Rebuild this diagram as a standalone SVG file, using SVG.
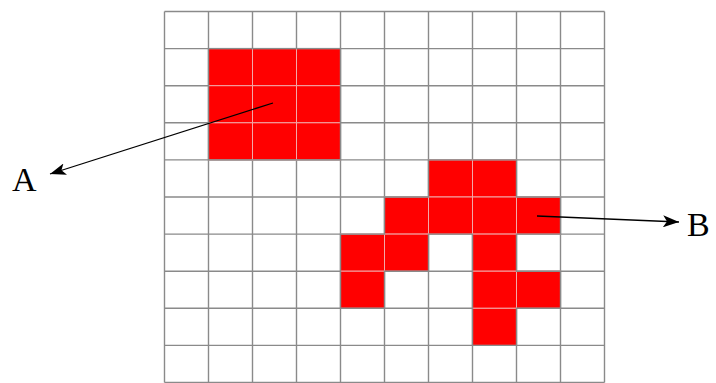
<svg xmlns="http://www.w3.org/2000/svg" width="716" height="383" viewBox="0 0 716 383">
<style>
.grid line{stroke:#8a8a8a;stroke-width:1.4}
.cell{fill:#ff0000;stroke:#f2a8a8;stroke-width:1}
.outline{fill:none;stroke:#8a8a8a;stroke-width:1.4}
.conn{stroke:#000;stroke-width:1.3;fill:none;marker-end:url(#ah)}
.lbl{font-family:"Liberation Serif","DejaVu Serif",serif;font-size:34px;fill:#000}
</style>
<defs>
<marker id="ah" markerUnits="userSpaceOnUse" markerWidth="18" markerHeight="12" refX="16" refY="6" orient="auto">
<path d="M0,0 L16,6 L0,12 L4,6 Z" fill="#000"/>
</marker>
</defs>
<rect width="716" height="383" fill="#fff"/>
<g class="grid">
<line x1="164.5" y1="11.5" x2="164.5" y2="382.5"/>
<line x1="208.5" y1="11.5" x2="208.5" y2="382.5"/>
<line x1="252.5" y1="11.5" x2="252.5" y2="382.5"/>
<line x1="296.5" y1="11.5" x2="296.5" y2="382.5"/>
<line x1="340.5" y1="11.5" x2="340.5" y2="382.5"/>
<line x1="384.5" y1="11.5" x2="384.5" y2="382.5"/>
<line x1="428.5" y1="11.5" x2="428.5" y2="382.5"/>
<line x1="472.5" y1="11.5" x2="472.5" y2="382.5"/>
<line x1="516.5" y1="11.5" x2="516.5" y2="382.5"/>
<line x1="560.5" y1="11.5" x2="560.5" y2="382.5"/>
<line x1="604.5" y1="11.5" x2="604.5" y2="382.5"/>
<line x1="164.5" y1="11.5" x2="604.5" y2="11.5"/>
<line x1="164.5" y1="48.6" x2="604.5" y2="48.6"/>
<line x1="164.5" y1="85.7" x2="604.5" y2="85.7"/>
<line x1="164.5" y1="122.8" x2="604.5" y2="122.8"/>
<line x1="164.5" y1="159.9" x2="604.5" y2="159.9"/>
<line x1="164.5" y1="197" x2="604.5" y2="197"/>
<line x1="164.5" y1="234.1" x2="604.5" y2="234.1"/>
<line x1="164.5" y1="271.2" x2="604.5" y2="271.2"/>
<line x1="164.5" y1="308.3" x2="604.5" y2="308.3"/>
<line x1="164.5" y1="345.4" x2="604.5" y2="345.4"/>
<line x1="164.5" y1="382.5" x2="604.5" y2="382.5"/>
</g>
<g id="regionA">
<rect class="cell" x="208.5" y="48.6" width="44" height="37.1"/>
<rect class="cell" x="252.5" y="48.6" width="44" height="37.1"/>
<rect class="cell" x="296.5" y="48.6" width="44" height="37.1"/>
<rect class="cell" x="208.5" y="85.7" width="44" height="37.1"/>
<rect class="cell" x="252.5" y="85.7" width="44" height="37.1"/>
<rect class="cell" x="296.5" y="85.7" width="44" height="37.1"/>
<rect class="cell" x="208.5" y="122.8" width="44" height="37.1"/>
<rect class="cell" x="252.5" y="122.8" width="44" height="37.1"/>
<rect class="cell" x="296.5" y="122.8" width="44" height="37.1"/>
<rect class="outline" x="208.5" y="48.6" width="132" height="111.3"/>
</g>
<g id="regionB">
<rect class="cell" x="428.5" y="159.9" width="44" height="37.1"/>
<rect class="cell" x="472.5" y="159.9" width="44" height="37.1"/>
<rect class="cell" x="384.5" y="197" width="44" height="37.1"/>
<rect class="cell" x="428.5" y="197" width="44" height="37.1"/>
<rect class="cell" x="472.5" y="197" width="44" height="37.1"/>
<rect class="cell" x="516.5" y="197" width="44" height="37.1"/>
<rect class="cell" x="340.5" y="234.1" width="44" height="37.1"/>
<rect class="cell" x="384.5" y="234.1" width="44" height="37.1"/>
<rect class="cell" x="472.5" y="234.1" width="44" height="37.1"/>
<rect class="cell" x="340.5" y="271.2" width="44" height="37.1"/>
<rect class="cell" x="472.5" y="271.2" width="44" height="37.1"/>
<rect class="cell" x="516.5" y="271.2" width="44" height="37.1"/>
<rect class="cell" x="472.5" y="308.3" width="44" height="37.1"/>
<path class="outline" d="M428.5,159.9 H516.5 V197 H560.5 V234.1 H516.5 V271.2 H560.5 V308.3 H516.5 V345.4 H472.5 V234.1 H428.5 V271.2 H384.5 V308.3 H340.5 V234.1 H384.5 V197 H428.5 Z"/>
</g>
<g id="connectors">
<line class="conn" x1="273" y1="103" x2="50" y2="174"/>
<line class="conn" x1="537" y1="216" x2="679" y2="222"/>
</g>
<g id="labelA"><text class="lbl" x="12" y="191">A</text></g>
<g id="labelB"><text class="lbl" x="687" y="236">B</text></g>
</svg>
